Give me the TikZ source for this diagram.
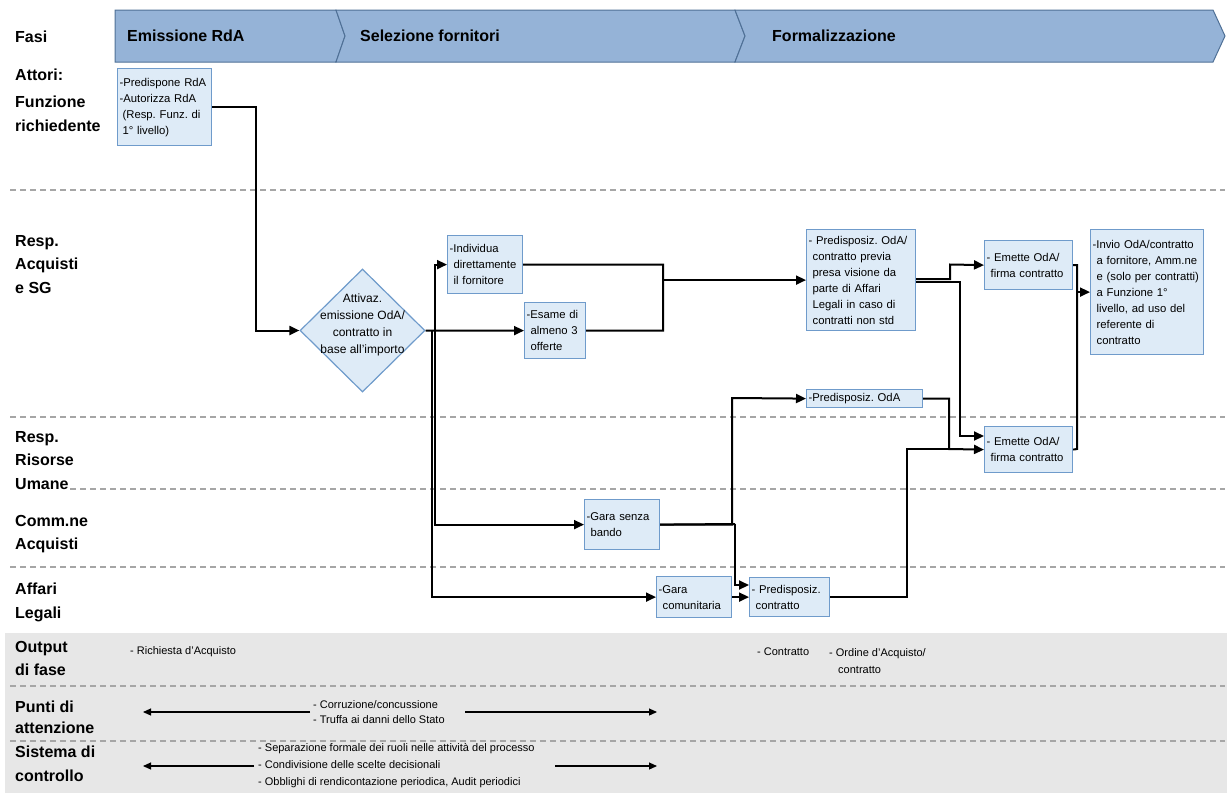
\documentclass[tikz,border=0pt]{standalone}
\usepackage{fontspec}
\setmainfont{Liberation Sans}
\usetikzlibrary{arrows.meta,shapes.geometric}
\definecolor{headfill}{HTML}{95B3D7}
\definecolor{headline}{HTML}{4F7096}
\definecolor{boxfill}{HTML}{DEEBF7}
\definecolor{boxline}{HTML}{6F9BCB}
\definecolor{sepgray}{HTML}{A6A6A6}
\definecolor{outgray}{HTML}{E7E7E7}
\newcommand{\pad}{\hspace*{4pt}}
\frenchspacing
\begin{document}
\begin{tikzpicture}[x=1pt,y=-1pt,>={Triangle[length=10pt,width=9pt]},
  lane/.style={draw=sepgray,line width=1.4pt,dash pattern=on 6pt off 4pt},
  actor/.style={anchor=north west,inner sep=0pt,align=left,font=\fontsize{16}{23.5}\selectfont\bfseries},
  phase/.style={anchor=west,inner sep=0pt,font=\fontsize{16}{19}\selectfont\bfseries},
  act/.style={draw=boxline,fill=boxfill,line width=1.2pt,anchor=north west,inner xsep=2pt,inner ysep=0pt,align=left,font=\fontsize{11.3}{16}\selectfont},
  wire/.style={line width=2pt},
  flow/.style={wire,->},
  note/.style={inner sep=0pt,align=left,font=\fontsize{11}{15}\selectfont},
  span/.style={line width=1.1pt,-{Triangle[length=8pt,width=7pt]}}]
\useasboundingbox (0,0) rectangle (1231,793);

% phases
\filldraw[fill=headfill,draw=headline,line width=1pt] (115,10)--(336,10)--(345,36)--(336,62)--(115,62)--cycle;
\filldraw[fill=headfill,draw=headline,line width=1pt] (336,10)--(735,10)--(745,36)--(735,62)--(336,62)--(345,36)--cycle;
\filldraw[fill=headfill,draw=headline,line width=1pt] (735,10)--(1213,10)--(1225,36)--(1213,62)--(735,62)--(745,36)--cycle;
\node[phase] (hEm) at (127,36) {Emissione RdA};
\node[phase] (hSel) at (360,36) {Selezione fornitori};
\node[phase] (hForm) at (772,36) {Formalizzazione};

% output block
\fill[outgray] (5,633) rectangle (1227,793);

% lanes
\draw[lane] (10,190)--(1225,190);
\draw[lane] (10,417)--(1225,417);
\draw[lane] (70,489)--(1225,489);
\draw[lane] (10,567)--(1225,567);
\draw[lane] (10,686)--(1225,686);
\draw[lane] (10,741)--(1225,741);

% actors
\node[phase] (lFasi) at (15,37) {Fasi};
\node[actor] (lAtt) at (15,69) {Attori:};
\node[actor] (lFunz) at (15,96) {Funzione\\richiedente};
\node[actor] (lAcq) at (15,235) {Resp.\\Acquisti\\e SG};
\node[actor] (lRU) at (15,431) {Resp.\\Risorse\\Umane};
\node[actor] (lComm) at (15,515) {Comm.ne\\Acquisti};
\node[actor] (lAL) at (15,583) {Affari\\Legali};
\node[actor] (lOut) at (15,641) {Output\\di fase};
\node[actor,font=\fontsize{16}{21}\selectfont\bfseries] (lPunti) at (15,701) {Punti di\\attenzione};
\node[actor] (lSist) at (15,746) {Sistema di\\controllo};

% activities
\node[act,text width=90pt,minimum height=77pt] (rda) at (117,68) {-Predispone RdA\\-Autorizza RdA\\\hspace*{3pt}(Resp. Funz. di\\\hspace*{3pt}1° livello)};
\node[diamond,draw=boxline,fill=boxfill,line width=1.2pt,minimum width=125pt,minimum height=123pt,inner sep=0pt] (att) at (362.5,330.5) {};
\node[align=center,inner sep=0pt,font=\fontsize{12}{17}\selectfont] (attTxt) at (362.5,325) {Attivaz.\\emissione OdA/\\contratto in\\base all’importo};
\node[act,text width=71pt,minimum height=58pt] (ind) at (447,235) {-Individua\\\pad direttamente\\\pad il fornitore};
\node[act,text width=57pt,minimum height=56pt] (esa) at (524,302) {-Esame di\\\pad almeno 3\\\pad offerte};
\node[act,text width=105pt,minimum height=101pt] (pre) at (806,229) {- Predisposiz. OdA/\\\pad contratto previa\\\pad presa visione da\\\pad parte di Affari\\\pad Legali in caso di\\\pad contratti non std};
\node[act,text width=84pt,minimum height=49pt] (emA) at (984,240) {- Emette OdA/\\\pad firma contratto};
\node[act,text width=109pt,minimum height=125pt] (inv) at (1090,229) {-Invio OdA/contratto\\\pad a fornitore, Amm.ne\\\pad e (solo per contratti)\\\pad a Funzione 1°\\\pad livello, ad uso del\\\pad referente di\\\pad contratto};
\node[act,text width=112pt,minimum height=18pt] (poda) at (806,389) {-Predisposiz. OdA};
\node[act,text width=84pt,minimum height=46pt] (emB) at (984,426) {- Emette OdA/\\\pad firma contratto};
\node[act,text width=71pt,minimum height=50pt] (gsb) at (584,499) {-Gara senza\\\pad bando};
\node[act,text width=71pt,minimum height=41pt] (gcom) at (656,576) {-Gara\\\pad comunitaria};
\node[act,text width=76pt,minimum height=39pt] (pctr) at (749,577) {- Predisposiz.\\\pad contratto};

% junctions
\coordinate (c1) at (256,330.5);
\coordinate (c2) at (435,330.5);
\coordinate (c3) at (432,330.5);
\coordinate (c4) at (663,330.5);
\coordinate (c5) at (950,264.5);
\coordinate (c6) at (960,436);
\coordinate (c7) at (949,449);
\coordinate (c8) at (907,449);
\coordinate (c9) at (1077,449);
\coordinate (c10) at (732,398);
\coordinate (c11) at (735,524);
\coordinate (c12) at (735,585);

\draw[flow] (rda.east) -| (c1) -- (att.west);
\draw[flow] (att.east) -- (esa.west);
\draw[flow] (c2) |- (ind.west);
\draw[flow] (c2) |- (gsb.west);
\draw[flow] (c3) |- (gcom.west);
\draw[wire] (ind.east) -| (c4) -- (esa.east);
\draw[flow] (c4 |- pre.west) -- (pre.west);
\draw[flow] ([yshift=1pt]pre.east) -| (c5) -- (emA.west);
\draw[flow] ([yshift=-2pt]pre.east) -| (c6) -- (c6 -| emB.west);
\draw[flow] (poda.east) -| (c7) -- (emB.west);
\draw[wire] (pctr.east) -| (c8) -- (c7);
\draw[wire] (emA.east) -| (c9) -- (emB.east);
\draw[flow] (c9 |- inv.west) -- (inv.west);
\draw[flow] (gsb.east) -| (c10) -- (poda.west);
\draw[wire] (gsb.east) -- (c11);
\draw[flow] (c11) -- (c12) -- (c12 -| pctr.west);
\draw[flow] (gcom.east) -- (pctr.west);

% output, risks, controls
\node[note,anchor=west] (oRda) at (130,652) {- Richiesta d’Acquisto};
\node[note,anchor=west] (oCtr) at (757,652) {- Contratto};
\node[note,anchor=north west,font=\fontsize{11}{17}\selectfont] (oOda) at (829,648) {- Ordine d’Acquisto/\\\hspace*{9pt}contratto};
\node[note,anchor=west] (pTxt) at (313,712) {- Corruzione/concussione\\- Truffa ai danni dello Stato};
\node[note,anchor=west,font=\fontsize{11}{17}\selectfont] (sTxt) at (258,766) {- Separazione formale dei ruoli nelle attività del processo\\- Condivisione delle scelte decisionali\\- Obblighi di rendicontazione periodica, Audit periodici};
\coordinate (pL) at (143,712);
\coordinate (pS) at (465,712);
\coordinate (pR) at (657,712);
\coordinate (sL) at (143,766);
\coordinate (sS) at (555,766);
\coordinate (sR) at (657,766);
\draw[span] ([xshift=-3pt]pTxt.west) -- (pL);
\draw[span] (pS) -- (pR);
\draw[span] ([xshift=-4pt]sTxt.west) -- (sL);
\draw[span] (sS) -- (sR);
\end{tikzpicture}
\end{document}
